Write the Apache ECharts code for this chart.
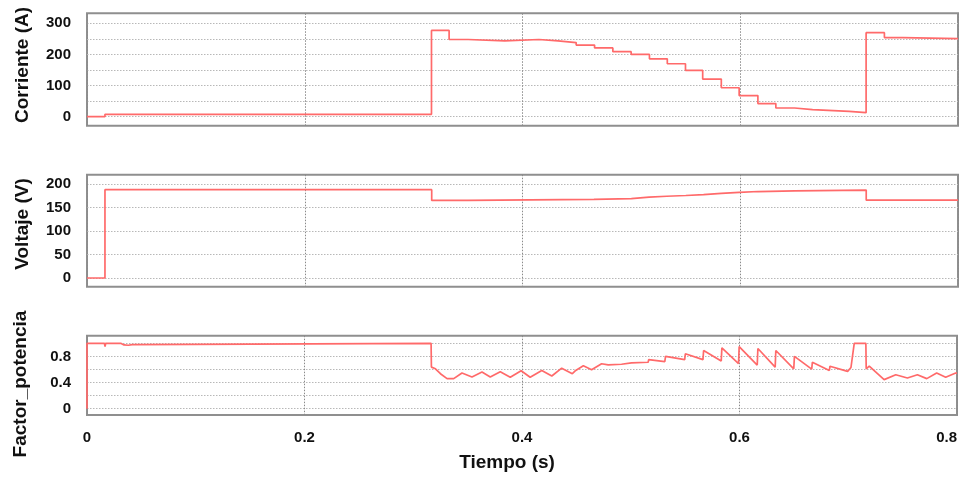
<!DOCTYPE html>
<html><head><meta charset="utf-8">
<script src="https://cdn.jsdelivr.net/npm/echarts@6/dist/echarts.min.js"></script>
<style>html,body{margin:0;padding:0;background:#fff}#c{width:960px;height:479px}</style>
</head><body><div id="c"></div>
<script>
// x axis
const xTickLabels = [0, 0.2, 0.4, 0.6, 0.8];

// Corriente (A): step changes (time, new value)
const curTimes  = [0, 0.0165, 0.3164, 0.3326, 0.350, 0.3837, 0.4151, 0.4326, 0.4493, 0.4662, 0.483, 0.4998, 0.5166, 0.533, 0.5497, 0.5655, 0.5826, 0.599, 0.6162, 0.6327, 0.6499, 0.6664, 0.700, 0.7156, 0.7324, 0.7492, 0.8];
const curValues = [0, 7.5, 277, 248, 243.5, 248, 243.5, 238, 230, 221, 209, 200, 186, 170, 149, 121, 93, 68, 42, 28, 23, 17, 13, 270, 254, 251, 251];
const curGrid   = [0, 50, 100, 150, 200, 250, 300];
const curLabels = [0, 100, 200, 300];

// Voltaje (V)
const voltTimes  = [0, 0.0165, 0.3166, 0.3497, 0.4656, 0.500, 0.5163, 0.5325, 0.550, 0.5663, 0.5826, 0.599, 0.6164, 0.650, 0.7157, 0.8];
const voltValues = [0, 188, 165, 167.5, 169, 172, 174, 175.5, 177.5, 180, 182, 184, 185.5, 187, 165.5, 165.5];
const voltGrid   = [0, 50, 100, 150, 200];
const voltLabels = [0, 50, 100, 150, 200];

// Factor_potencia
const pfTimes = [0, 0, 0.0160, 0.0166, 0.0172, 0.031, 0.034, 0.038, 0.0415, 0.043, 0.3164, 0.3167, 0.3204, 0.3250, 0.3311, 0.3372, 0.3448, 0.3540, 0.3632, 0.3708, 0.3800, 0.3892, 0.3992, 0.4075, 0.4182, 0.4274, 0.4365, 0.4463, 0.4494, 0.4564, 0.4640, 0.4732, 0.4793, 0.4915, 0.5007, 0.5160, 0.5165, 0.5313, 0.5320, 0.5496, 0.5502, 0.5664, 0.5670, 0.5832, 0.5838, 0.5991, 0.5997, 0.6163, 0.6169, 0.6328, 0.6334, 0.6499, 0.6505, 0.6664, 0.6670, 0.6826, 0.6832, 0.6994, 0.7025, 0.7055, 0.7162, 0.7165, 0.7193, 0.7330, 0.7437, 0.7544, 0.7636, 0.7722, 0.7813, 0.7896, 0.7988, 0.8];
const pfValues = [0, 1.0, 1.0, 0.95, 1.0, 1.0, 0.975, 0.97, 0.98, 1.0, 1.0, 0.636, 0.61, 0.535, 0.46, 0.46, 0.545, 0.485, 0.56, 0.485, 0.565, 0.48, 0.58, 0.48, 0.585, 0.5, 0.62, 0.535, 0.585, 0.656, 0.596, 0.687, 0.67, 0.68, 0.70, 0.71, 0.75, 0.72, 0.80, 0.75, 0.84, 0.75, 0.89, 0.73, 0.93, 0.69, 0.95, 0.667, 0.92, 0.636, 0.89, 0.61, 0.80, 0.606, 0.71, 0.585, 0.65, 0.57, 0.63, 1.0, 1.0, 0.61, 0.65, 0.445, 0.52, 0.47, 0.52, 0.46, 0.545, 0.48, 0.545, 0.545];
const pfGrid   = [0, 0.2, 0.4, 0.6, 0.8, 1.0];
const pfLabels = [0, 0.4, 0.8];

const FONT = '"Liberation Sans", Arial, sans-serif';
const LINE = '#ff6a6a';
const pairs = (ts, vs) => ts.map((t, i) => [t, vs[i]]);

const grids = [
  {left: 87, right: 2, top: 13.3, height: 112.4},
  {left: 87, right: 2, top: 174.7, height: 112},
  {left: 87, right: 2, top: 335.7, height: 79.3}
].map(g => Object.assign(g, {show: true, borderColor: '#8f8f8f', borderWidth: 2, backgroundColor: 'transparent'}));

const yRanges = [[-28.9, 332.1], [-18.5, 219.8], [-0.096, 1.116]];
const yGridVals = [curGrid, voltGrid, pfGrid];
const yLabelVals = [curLabels, voltLabels, pfLabels];

const xAxes = [0, 1, 2].map(i => ({
  type: 'value', gridIndex: i, min: xTickLabels[0], max: xTickLabels[xTickLabels.length - 1], interval: 0.2,
  axisLine: {show: false}, axisTick: {show: false},
  axisLabel: {show: i === 2, fontFamily: FONT, fontSize: 15, fontWeight: 'bold', color: '#111', margin: 15, alignMaxLabel: 'right'},
  splitLine: {show: true, lineStyle: {color: '#8a8a8a', width: 1, type: [1.5, 1.5]}}
}));

const yAxes = [0, 1, 2].map(i => ({
  type: 'value', gridIndex: i, min: yRanges[i][0], max: yRanges[i][1],
  axisLine: {show: false},
  axisTick: {show: false, customValues: yGridVals[i]},
  axisLabel: {customValues: yLabelVals[i], fontFamily: FONT, fontSize: 15, fontWeight: 'bold', color: '#111', margin: 16},
  splitLine: {show: true, lineStyle: {color: '#b8b8b8', width: 1, type: [1.5, 1.5]}}
}));

const mkSeries = (i, data, step) => ({
  type: 'line', xAxisIndex: i, yAxisIndex: i, data: data, step: step,
  symbol: 'none', showSymbol: false, clip: true,
  lineStyle: {color: LINE, width: 1.7}, z: 3
});

const txt = (s, x, y, rot) => ({
  type: 'text', x: x, y: y, rotation: rot,
  style: {text: s, x: 0, y: 0, align: 'center', verticalAlign: 'middle', textAlign: 'center', textVerticalAlign: 'middle',
          font: 'bold 19px ' + FONT, fill: '#111'}
});

const chart = echarts.init(document.getElementById('c'), null, {renderer: 'canvas'});
chart.setOption({
  animation: false,
  backgroundColor: '#fff',
  grid: grids,
  xAxis: xAxes,
  yAxis: yAxes,
  series: [
    mkSeries(0, pairs(curTimes, curValues), 'end'),
    mkSeries(1, pairs(voltTimes, voltValues), 'end'),
    mkSeries(2, pairs(pfTimes, pfValues), false)
  ],
  graphic: [
    txt('Corriente (A)', 23, 65, Math.PI / 2),
    txt('Voltaje (V)', 23, 224, Math.PI / 2),
    txt('Factor_potencia', 21, 384, Math.PI / 2),
    txt('Tiempo (s)', 507, 463, 0)
  ]
});
</script>
</body></html>
